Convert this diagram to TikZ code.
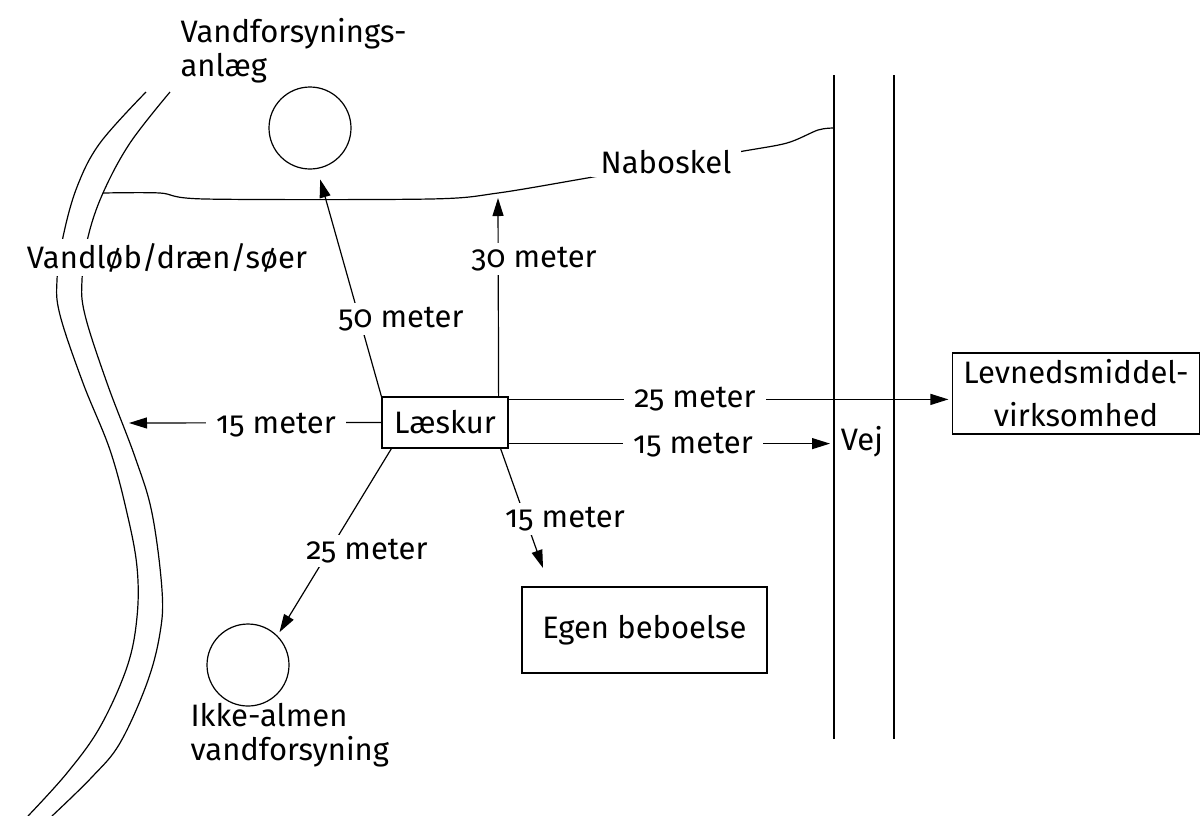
\documentclass[tikz,border=0pt]{standalone}
\usepackage{fontspec}
\setmainfont{Fira Sans}[Numbers=OldStyle]
\usetikzlibrary{arrows.meta}

\tikzset{
  arr/.style={-{Triangle[length=9pt,width=5.5pt]}},
  lbl/.style={fill=white, inner xsep=5pt, inner ysep=2pt, anchor=base},
  hus/.style={draw, inner sep=0pt},
  brond/.style={draw, circle, minimum size=41pt, inner sep=0pt},
}

\begin{document}
\begin{tikzpicture}[x=0.5pt, y=-0.5pt, line width=0.6pt, font=\fontsize{15.5}{17}\selectfont]
\useasboundingbox (0,0) rectangle (1202,815);

% vandloeb
\draw plot[smooth, tension=0.6] coordinates {(146,92) (100,143) (77,187) (63,237) (57,280) (60,315) (83,383) (110,450) (127,513) (137,567) (137,617) (127,667) (100,727) (67,773) (28,816)};
\draw plot[smooth, tension=0.6] coordinates {(170,92) (130,143) (103,193) (88,237) (82,280) (85,315) (107,383) (135,457) (152,513) (162,590) (160,633) (147,683) (120,743) (92,777) (52,816)};

% vej
\coordinate (vejA) at (834,75);
\coordinate (vejB) at (894,75);
\draw (vejA) -- (834,739);
\draw (vejB) -- (894,739);

% naboskel
\draw plot[smooth, tension=0.5] coordinates {(103,193) (160,193) (205,199) (430,199) (498,193) (593,177) (738,152) (787,143) (818,130) (834,128)};

% bygninger og broende
\node[hus, minimum width=63pt, minimum height=25.5pt] (lk) at (445,422.5) {Læskur};
\node[brond] (vf) at (310,128) {};
\node[brond] (ia) at (248,665) {};
\node[hus, minimum width=122.5pt, minimum height=43pt] (eb) at (644.5,630) {Egen beboelse};
\node[hus, minimum width=123.5pt, minimum height=40.5pt, align=center, font=\fontsize{15.5}{21.5}\selectfont] (lvm) at (1076,393.5) {Levnedsmiddel-\\virksomhed};

% tekster
\node[anchor=north west, align=left, inner sep=0pt] (vft) at (180,18) {Vandforsynings-\\anlæg};
\node[anchor=north west, align=left, inner sep=0pt] (iat) at (190,703) {Ikke-almen\\vandforsyning};
\node[lbl, inner xsep=2pt] (vlt) at (167,268) {Vandløb/dræn/søer};
\node[lbl] (nbt) at (666,173) {Naboskel};
\node[anchor=base] (vej) at (862,450) {Vej};

% afstande
\coordinate (b15) at (129,423);
\coordinate (n30) at (498,198);
\coordinate (t15) at (543,568);
\coordinate (r25) at ([yshift=-1.5pt]lk.north east);
\coordinate (r15) at ([yshift=2.5pt]lk.south east);

\draw[arr, shorten >=5.5pt] (lk.north west) -- (vf.-80);
\draw[arr] ([xshift=-5pt]lk.north east) -- (n30);
\draw[arr, shorten >=1.75pt] (r25) -- (r25 -| lvm.west);
\draw[arr, shorten >=2pt] (r15) -- (r15 -| vejA);
\draw[arr] (lk.west) -- (b15);
\draw[arr] ([xshift=-4pt]lk.south east) -- (t15);
\draw[arr, shorten >=2pt] ([xshift=5pt]lk.south west) -- (ia.north east);

\node[lbl] (m50) at (401,327) {50 meter};
\node[lbl] (m30) at (534,267) {30 meter};
\node[lbl] (m15v) at (276,433) {15 meter};
\node[lbl] (m25h) at (695,407) {25 meter};
\node[lbl] (m15h) at (693,453) {15 meter};
\node[lbl] (m15s) at (565,527) {15 meter};
\node[lbl] (m25s) at (367,559) {25 meter};

\end{tikzpicture}
\end{document}
